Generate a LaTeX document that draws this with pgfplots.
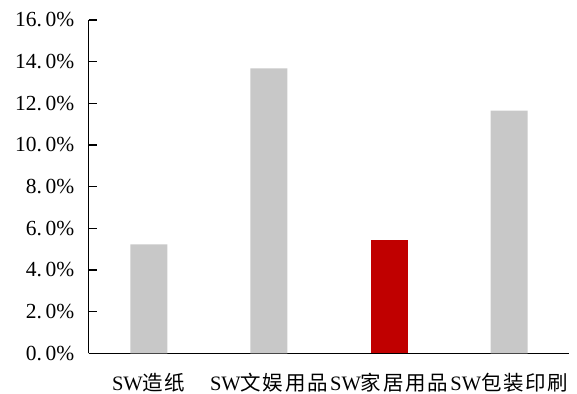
\documentclass[border=0pt]{standalone}
\usepackage{pgfplots}
\pgfplotsset{compat=1.18}
\usepackage{fontspec}
\setmainfont{Liberation Serif}
\newfontfamily\cjk[LetterSpace=8]{Noto Sans CJK SC}
\definecolor{bargray}{RGB}{200,200,200}
\definecolor{barred}{RGB}{192,0,0}
\begin{document}
\begin{tikzpicture}
\path[use as bounding box] (-88.7bp,-40.7bp) rectangle (488.3bp,353.3bp);
\begin{axis}[
  scale only axis, width=480.6bp, height=333.3bp,
  xmin=0.5, xmax=4.5, ymin=0, ymax=16,
  axis x line=bottom, axis y line=left,
  axis line style={-, line width=1.2bp, black},
  tick align=inside,
  major tick length=8bp, minor tick length=10bp,
  tick style={line width=1.2bp, black},
  xtick={1,2,3,4},
  xticklabels={SW{\cjk 造纸}, SW{\cjk 文娱用品}, SW{\cjk 家居用品}, SW{\cjk 包装印刷}},
  x tick style={draw=none},
  minor xtick={0.5,1.5,2.5,3.5,4.5},
  minor x tick style={line width=1.2bp, black},
  ytick={0,2,...,16},
  yticklabels={0.\,0\%,2.\,0\%,4.\,0\%,6.\,0\%,8.\,0\%,10.\,0\%,12.\,0\%,14.\,0\%,16.\,0\%},
  xticklabel style={font=\fontsize{20.5bp}{24bp}\selectfont, yshift=-8bp},
  yticklabel style={font=\fontsize{21.5bp}{24bp}\selectfont, xshift=-11bp},
  ybar, bar width=37bp,
]
\addplot[fill=bargray, draw=none, bar shift=0pt] coordinates {(1,5.23) (2,13.68) (4,11.65)};
\addplot[fill=barred, draw=none, bar shift=0pt] coordinates {(3,5.44)};
\end{axis}
\end{tikzpicture}
\end{document}
